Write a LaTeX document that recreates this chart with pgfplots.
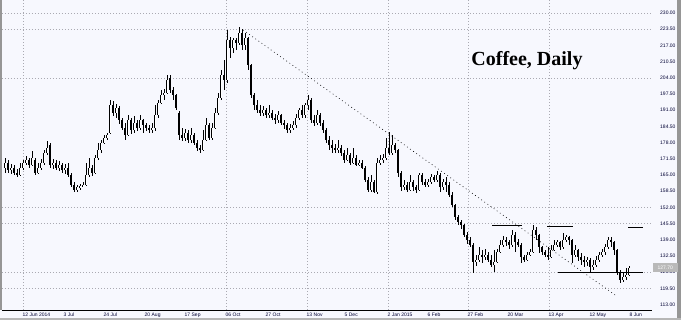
\documentclass[border=0pt]{standalone}
\usepackage{pgfplots}
\pgfplotsset{compat=1.18}
\usepackage{pgfplotstable}
\usepackage{fontspec}
\setmainfont{Liberation Sans}
\newfontfamily\titlefont{Liberation Serif}
\definecolor{bgc}{RGB}{247,248,254}
\definecolor{gridc}{RGB}{170,170,178}
\definecolor{framec}{RGB}{150,150,150}

\pgfplotstableread{
x o h l c
5 168 172 166 170
8 170 171 166 167
11 167 169.5 165.5 168
14 168 169 165 166
17 166 167.5 164 165
20 165 170 164.5 168
23 168 171 167 170
26 170 172.5 169 171
29 171 172 168 169
32 169 174.5 168.5 172
35 171 172 165 166
38 166 170 165.5 168
41 168 171.5 167 170
44 170 175 169 174
47 174 178.5 173 176
50 177 178 168 169
53 169 171.5 167.5 170
56 170 171 167 168
59 168 170.5 166.5 169
62 169 170 166 167
65 167 169.5 165.5 168
68 168 170 164 165
71 165 166 160 161
74 161 162 158 159
77 159 161 158.3 160
80 160 161.5 159 160.5
83 160.5 162 160 161
86 161 170 160.5 165
89 165 172 164 168
92 168 169 164.5 166
95 166 173 165.5 172
98 172 178 171 175
101 175 179 174 178
104 178 181 177.5 180
107 180 182 179 181
110 182 195 181.5 193
113 193 194.5 188.5 190
116 190 193.5 188 192
119 192 192.5 185.5 187
122 187 188 183 184
125 184 186 179 181
128 181 189 180.5 187
131 187 188 181.5 183
134 183 188.5 182 186
137 186 187 182.5 184
140 184 189 183 187
143 187 187.5 182 185
146 185 186 182.5 184
149 184 185 182 183
152 183 186 182 184
155 184 193 182.5 189
158 189 195 188 194
161 194 199 193.5 197
164 197 199.5 195 198
167 198 205 197.5 203
170 204 205 198 199
173 199 200.5 195 197
176 197 197.5 191 192
179 190 190.5 179 181
182 181 184 178.5 180
185 180 183.5 178.5 182
188 182 183 178 179
191 179 184 178 181
194 181 182 177 178
197 178 179 174.5 176
200 176 177 174 175
203 175 183 174.5 179
206 179 188 178.5 185
209 185 186 179 180
212 180 186 179 184
215 184 192 183.5 190
218 190 198 189 196
221 196 207 195 205
224 205 211 199 203
227 203 223 202 219
230 219 220.5 212 216
233 216 220 214 219
236 219 220 215 218
239 218 224.3 217 222
242 222 223.5 215 217
245 217 222 215 220
248 220 220.5 207 209
251 209 209.5 196 197
254 197 198 191 193
257 193 195 190 191
260 191 193 188.5 190
263 190 192.5 188.5 191
266 191 192 188 189
269 189 193 188 190
272 190 191 187 188
275 188 189.5 185.5 187
278 187 190.5 186 189
281 189 189.5 185 186
284 186 187 183.5 185
287 185 186 182 183
290 183 185.5 182 184
293 184 186.5 183 185
296 185 189.5 184 188
299 188 192 187 191
302 191 193 188 189
305 189 194 188 193
308 193 197 191 195
311 195 196 186 187
314 187 189 184.5 186
317 186 191 185 189
320 189 190 184.5 186
323 186 187 182 183
326 183 184 178 179
329 179 180.5 175 177
332 177 179 174 176
335 176 177.5 174 175
338 175 179 174 176
341 176 177 172.5 174
344 174 175 170 171
347 171 176 170.5 173
350 173 174 169 170
353 170 176 169.5 172
356 172 173 168.5 169
359 169 171 168.5 170
362 170 171 167.5 168
365 168 168.5 162 163
368 163 164 158 159
371 159 165 158 162
374 162 163 157.7 158
377 158 172 157.5 170
380 170 173 169 171
383 171 173.5 170 172
386 172 180 171 176
389 176 182.4 173 174
392 174 181 173 177
395 177 178 174 175
398 175 175.5 164 166
401 166 166.5 158.5 160
404 160 163 159 161
407 161 162 158 159
410 159 165 158.5 162
413 162 163 158.5 160
416 160 161 157.7 159
419 159 166 158.5 165
422 165 166 161 162
425 162 163.5 160 161
428 161 163.5 160 162
431 162 165.5 161.5 164
434 164 165 162 163
437 163 166.5 162 165
440 165 166 158 160
443 160 163.5 159 162
446 162 164 158 161
449 161 162 156 157
452 157 158 152 153
455 153 153.5 147 148
458 148 149 145 146
461 146 147 143.5 145
464 145 145.5 140 141
467 141 142 137.5 139
470 139 140 136 137
473 137 137.6 125.6 130
476 130 133 128.5 131
479 131 136 130 133
482 133 135 129.6 132
485 132 135.5 131 133
488 133 134 130 131
491 131 133 128.2 129
494 129 135 126.2 130
497 130 135.5 129.5 134
500 134 138.9 133.5 137
503 137 140.5 136 139
506 139 140 136.5 138
509 138 139 135.5 137
512 137 143 136 141
515 141 142 134 138
518 138 139.5 136 137
521 137 137.6 129.6 132
524 132 133 130 131
527 131 134 130.5 133
530 133 135.5 132.5 134
533 134 145 133.5 143
536 143 144 139 141
539 141 141.5 133.6 136
542 136 136.5 133 134
545 134 135 132 133
548 133 136 131 132
551 132 137 131.5 135
554 135 139 134.5 137
557 137 139 136 138
560 138 138.5 135 136
563 136 141.6 135.5 139
566 139 141 138 140
569 140 140.5 137 139
572 139 139.5 129.6 133
575 133 137 132 135
578 135 135.5 130.5 132
581 132 133.5 129 131
584 131 132.5 128.2 130
587 130 132 128.5 131
590 131 131.5 126.2 128
593 128 131 127 129
596 129 132.5 128 131
599 131 134 130 133
602 133 135.5 132 134
605 134 137.5 133 136
608 136 140.3 135.5 139
611 139 140 136 138
614 138 138.5 133 135
617 135 135.5 125 126
620 126 127 121.5 123
623 123 125.5 122 124
626 124 127.6 122.9 125
629 125 128.5 124.5 127.7
}\candles

\begin{document}
\begin{tikzpicture}
\useasboundingbox (0,0) rectangle (681pt,320pt);
\fill[bgc] (0,0) rectangle (681pt,320pt);
\fill[framec] (0,10pt) rectangle (2pt,320pt);
\fill[framec] (677pt,0) rectangle (681pt,320pt);
\fill[framec!70] (0,0) rectangle (681pt,2pt);
\begin{axis}[
  at={(2pt,10pt)}, anchor=south west,
  scale only axis, width=650pt, height=310pt,
  xmin=2, xmax=652, ymin=110.83, ymax=235.22,
  clip=false,
  axis x line*=bottom, axis y line*=right,
  x axis line style={-, black, line width=0.9pt},
  y axis line style={draw=none},
  tick style={draw=none},
  xtick={23,64,104,145,185,226,266,307,345,388,428,468,508,549,590,630},
  xticklabels={12 Jun 2014,3 Jul,24 Jul,20 Aug,17 Sep,06 Oct,27 Oct,13 Nov,5 Dec,2 Jan 2015,6 Feb,27 Feb,20 Mar,13 Apr,12 May,8 Jun},
  xticklabel style={anchor=north west, font=\fontsize{5}{6}\selectfont, inner sep=0pt, yshift=-2.5pt, xshift=-0.5pt, text=black!80!blue},
  ytick={230,223.5,217,210.5,204,197.5,191,184.5,178,171.5,165,158.5,152,145.5,139,132.5,126,119.5,113},
  yticklabel style={anchor=west, font=\fontsize{5}{6}\selectfont, inner sep=0pt, xshift=8pt, text=black!80!blue},
  /pgf/number format/.cd, fixed, fixed zerofill, precision=2, assume math mode=true,
  /pgfplots/.cd,
  extra x ticks={23,226,307,388,468,549},
  extra x tick labels={},
  extra x tick style={grid=major},
  extra y ticks={230,223.5,204,152,145.5,126,119.5},
  extra y tick labels={},
  extra y tick style={grid=major},
  major grid style={gridc, line width=0.55pt, dash pattern=on 1pt off 2pt},
]
% wicks
\addplot[draw=none, mark=none, forget plot,
  error bars/.cd, y dir=both, y explicit, error mark=none,
  error bar style={draw=black, line width=0.55pt}]
  table[x=x, y expr={(\thisrow{h}+\thisrow{l})/2}, y error expr={(\thisrow{h}-\thisrow{l})/2}] {\candles};
% bearish bodies
\addplot[draw=none, mark=none, forget plot,
  restrict expr to domain={\thisrow{o}-\thisrow{c}}{0:1000},
  error bars/.cd, y dir=both, y explicit, error mark=none,
  error bar style={draw=black, line width=2pt, line cap=butt}]
  table[x=x, y expr={(\thisrow{o}+\thisrow{c})/2}, y error expr={(\thisrow{o}-\thisrow{c})/2}] {\candles};
% bullish bodies: outline
\addplot[draw=none, mark=none, forget plot,
  restrict expr to domain={\thisrow{c}-\thisrow{o}}{0.001:1000},
  error bars/.cd, y dir=both, y explicit, error mark=none,
  error bar style={draw=black, line width=2pt, line cap=butt}]
  table[x=x, y expr={(\thisrow{o}+\thisrow{c})/2}, y error expr={(\thisrow{c}-\thisrow{o})/2}] {\candles};
\addplot[draw=none, mark=none, forget plot,
  restrict expr to domain={\thisrow{c}-\thisrow{o}}{0.001:1000},
  error bars/.cd, y dir=both, y explicit, error mark=none,
  error bar style={draw=white, line width=0.8pt, line cap=butt}]
  table[x=x, y expr={(\thisrow{o}+\thisrow{c})/2}, y error expr={(\thisrow{c}-\thisrow{o})/2}] {\candles};
% trend line
\addplot[black, line width=0.6pt, dash pattern=on 0.8pt off 3pt, mark=none, forget plot] coordinates {(243,223.2) (617,116.3)};
% level lines
\addplot[black, line width=0.9pt, mark=none, forget plot] coordinates {(492,144.6) (522,144.6)};
\addplot[black, line width=0.9pt, mark=none, forget plot] coordinates {(547,144.3) (573,144.3)};
\addplot[black, line width=0.9pt, mark=none, forget plot] coordinates {(628,143.9) (643,143.9)};
\addplot[black, line width=0.9pt, mark=none, forget plot] coordinates {(558,125.7) (643,125.7)};
% title
\node[font=\titlefont\bfseries\fontsize{20}{22}\selectfont, text=black] at (axis cs:527,211) {Coffee, Daily};
% price box
\node[fill=gray!55, text=white, font=\fontsize{5}{6}\selectfont, inner sep=1.2pt, anchor=west, minimum height=9pt, minimum width=25pt] at (axis cs:652.5,127.7) {127.70};
\end{axis}
\end{tikzpicture}
\end{document}
